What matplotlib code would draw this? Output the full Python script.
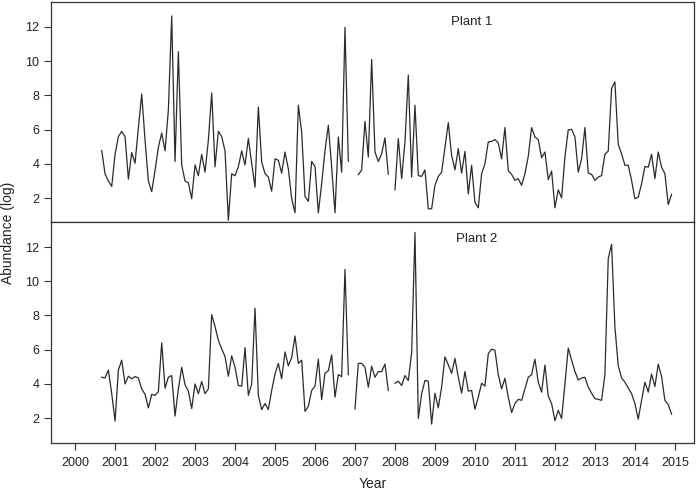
"""
Monthly abundance (log) for two plants, 2000-2014, stacked panels
with a shared year axis. Saves out.png.
"""

import numpy as np
import matplotlib
matplotlib.use("Agg")
import matplotlib.pyplot as plt

NaN = np.nan

START_YEAR = 2000
START_MONTH = 9          # first sample: Sep 2000
YEARS = list(range(2000, 2016))
Y_TICKS = [2, 4, 6, 8, 10, 12]

PLANT_1 = [
    4.78, 3.42, 3.00, 2.69, 4.56, 5.59, 5.90, 5.59, 3.11, 4.66, 4.04, 6.11,
    8.08, 5.38, 3.00, 2.38, 3.63, 4.97, 5.80, 4.76, 7.14, 12.63, 4.14, 10.54,
    3.94, 3.00, 2.90, 1.97, 3.94, 3.31, 4.56, 3.52, 5.38, 8.14, 3.83, 5.90,
    5.59, 4.76, 0.72, 3.42, 3.31, 3.83, 4.76, 3.94, 5.49, 4.04, 2.64, 7.32,
    4.11, 3.43, 3.23, 2.41, 4.30, 4.21, 3.46, 4.69, 3.71, 1.97, 1.15, 7.42,
    5.86, 2.10, 1.82, 4.14, 3.85, 1.15, 2.84, 4.78, 6.25, 3.81, 1.15, 5.57,
    3.52, 11.96, 4.16, NaN, NaN, 3.37, 3.65, 6.48, 4.40, 10.09, 4.69, 4.14,
    4.59, 5.52, 3.39, NaN, 2.49, 5.48, 3.14, 5.28, 9.18, 3.23, 7.42, 3.32,
    3.27, 3.65, 1.38, 1.38, 2.75, 3.27, 3.52, 4.98, 6.41, 4.49, 3.65, 4.89,
    3.46, 4.73, 2.26, 3.92, 1.76, 1.44, 3.43, 4.01, 5.28, 5.31, 5.42, 5.22,
    4.30, 6.12, 3.61, 3.39, 3.04, 3.14, 2.75, 3.43, 4.44, 6.12, 5.57, 5.42,
    4.36, 4.69, 3.08, 3.58, 1.44, 2.49, 2.02, 4.40, 5.99, 6.01, 5.57, 3.52,
    4.30, 6.12, 3.46, 3.39, 3.04, 3.23, 3.32, 4.56, 4.75, 8.40, 8.78, 5.14,
    4.59, 3.92, 3.92, 3.04, 1.97, 2.06, 2.84, 3.85, 3.81, 4.56, 3.14, 4.69,
    3.81, 3.43, 1.63, 2.22,
]

PLANT_2 = [
    4.39, 4.35, 4.81, 3.43, 1.83, 4.81, 5.39, 4.00, 4.45, 4.30, 4.43, 4.35,
    3.71, 3.39, 2.60, 3.39, 3.33, 3.56, 6.40, 3.75, 4.39, 4.49, 2.12, 3.71,
    4.97, 3.95, 3.58, 2.56, 4.00, 3.43, 4.14, 3.43, 3.71, 8.05, 7.35, 6.55,
    6.05, 5.60, 4.45, 5.64, 4.97, 3.91, 3.87, 6.12, 3.33, 4.00, 8.42, 3.33,
    2.50, 2.85, 2.50, 3.62, 4.58, 5.20, 4.30, 5.87, 5.06, 5.54, 6.80, 5.20,
    5.39, 2.40, 2.69, 3.62, 3.87, 5.45, 3.08, 4.62, 4.77, 5.70, 3.23, 4.54,
    4.43, 10.69, 4.54, NaN, 2.54, 5.20, 5.20, 4.97, 3.81, 5.03, 4.39, 4.72,
    4.72, 5.16, 3.62, NaN, 4.04, 4.16, 3.91, 4.49, 4.20, 5.83, 12.85, 1.98,
    3.43, 4.20, 4.16, 1.65, 3.46, 2.60, 3.81, 5.58, 5.12, 4.62, 5.49, 4.39,
    3.46, 4.73, 3.58, 3.62, 2.52, 3.23, 4.04, 3.87, 5.77, 6.03, 5.97, 4.54,
    3.71, 4.33, 3.23, 2.33, 2.85, 3.10, 3.04, 3.71, 4.39, 4.54, 5.45, 4.10,
    3.52, 5.10, 3.29, 2.85, 1.85, 2.46, 1.98, 4.00, 6.09, 5.39, 4.73, 4.23,
    4.35, 4.39, 3.81, 3.46, 3.14, 3.10, 3.04, 4.54, 11.32, 12.16, 7.32, 5.06,
    4.35, 4.10, 3.77, 3.43, 2.85, 1.94, 3.04, 4.10, 3.52, 4.58, 3.85, 5.16,
    4.43, 3.04, 2.79, 2.23,
]

LINE_COLOR = "#2b2b2b"
AXIS_COLOR = "#333333"

plt.rcParams["font.family"] = ["Liberation Sans", "DejaVu Sans"]


def month_axis(n):
    # decimal-year position of each monthly sample
    return START_YEAR + (START_MONTH - 1 + np.arange(n)) / 12


def style_panel(ax, ylim):
    ax.set_xlim(1999.39, 2015.49)
    ax.set_ylim(*ylim)
    ax.set_yticks(Y_TICKS)
    ax.set_yticklabels([str(v) for v in Y_TICKS])
    for s in ax.spines.values():
        s.set_linewidth(0.9)
        s.set_color(AXIS_COLOR)
    ax.tick_params(axis="y", direction="out", length=5, width=0.8,
                   colors=AXIS_COLOR, labelcolor="#222222", labelsize=9, pad=3)


def main():
    fig = plt.figure(figsize=(6.97, 4.94), dpi=100)
    ax1 = fig.add_axes([0.0727, 0.5516, 0.9237, 0.4450])
    ax2 = fig.add_axes([0.0727, 0.1026, 0.9237, 0.4490])

    t = month_axis(len(PLANT_1))
    ax1.plot(t, PLANT_1, color=LINE_COLOR, lw=0.9)
    ax2.plot(t, PLANT_2, color=LINE_COLOR, lw=0.9)

    style_panel(ax1, (0.64, 13.46))
    style_panel(ax2, (0.53, 13.49))

    ax1.tick_params(axis="x", bottom=False, labelbottom=False)
    ax2.set_xticks(YEARS)
    ax2.set_xticklabels([str(y) for y in YEARS])
    ax2.tick_params(axis="x", direction="out", length=5, width=0.8,
                    colors=AXIS_COLOR, labelcolor="#222222", labelsize=9, pad=5)

    ax1.text(0.654, 0.908, "Plant 1", transform=ax1.transAxes,
             ha="center", va="center", fontsize=9.5, color="#222222")
    ax2.text(0.662, 0.919, "Plant 2", transform=ax2.transAxes,
             ha="center", va="center", fontsize=9.5, color="#222222")

    fig.text(0.0115, 0.529, "Abundance (log)", rotation=90,
             ha="center", va="center", fontsize=10, color="#222222")
    fig.text(0.535, 0.0202, "Year", ha="center", va="center",
             fontsize=10, color="#222222")

    fig.savefig("out.png", dpi=100)
    plt.close(fig)


if __name__ == "__main__":
    main()
